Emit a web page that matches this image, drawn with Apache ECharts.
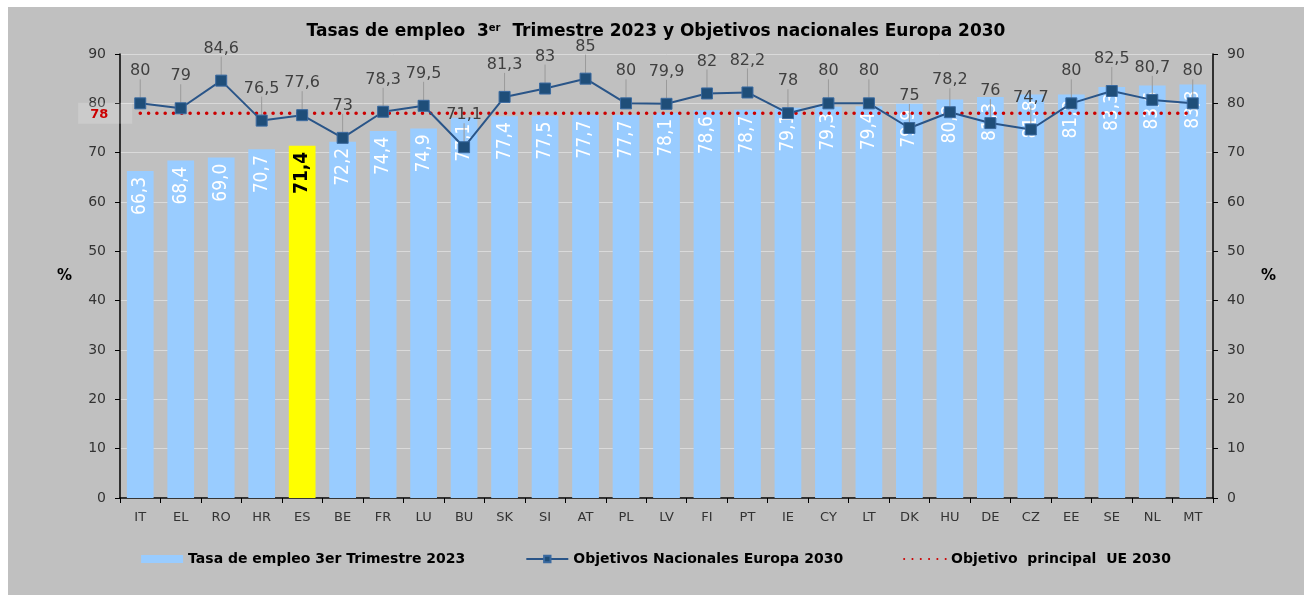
<!DOCTYPE html>
<html>
<head>
<meta charset="utf-8">
<script src="https://cdn.jsdelivr.net/npm/echarts@6/dist/echarts.min.js"></script>
<style>
  html, body { margin: 0; padding: 0; background: #fff; }
  #chart { position: absolute; left: 8px; top: 7px; width: 1296px; height: 588px; }
</style>
</head>
<body>
<div id="chart"></div>
<script>
// países ordenados por tasa de empleo
const countries = ['IT', 'EL', 'RO', 'HR', 'ES', 'BE', 'FR', 'LU', 'BU', 'SK', 'SI', 'AT', 'PL', 'LV',
  'FI', 'PT', 'IE', 'CY', 'LT', 'DK', 'HU', 'DE', 'CZ', 'EE', 'SE', 'NL', 'MT']
const employmentRate = [66.3, 68.4, 69.0, 70.7, 71.4, 72.2, 74.4, 74.9, 77.1, 77.4, 77.5, 77.7, 77.7, 78.1,
  78.6, 78.7, 79.1, 79.3, 79.4, 79.9, 80.8, 81.3, 81.8, 81.8, 83.3, 83.6, 83.8]
const nationalTargets = [80, 79, 84.6, 76.5, 77.6, 73, 78.3, 79.5, 71.1, 81.3, 83, 85, 80, 79.9,
  82, 82.2, 78, 80, 80, 75, 78.2, 76, 74.7, 80, 82.5, 80.7, 80]
const euTarget = 78
const highlighted = 'ES'
const yTicks = [0, 10, 20, 30, 40, 50, 60, 70, 80, 90]

const chart = echarts.init(document.getElementById('chart'))

const fmt = v => String(v).replace('.', ',')
const narrow = "'DejaVu Sans Condensed', 'Liberation Sans Narrow', 'Liberation Sans', sans-serif"

const yAxisBase = {
  type: 'value',
  min: yTicks[0],
  max: yTicks[yTicks.length - 1],
  interval: 10,
  name: '%',
  nameLocation: 'middle',
  nameRotate: 0,
  nameGap: 48,
  nameTextStyle: { fontFamily: 'DejaVu Sans', fontWeight: 'bold', fontSize: 15, color: '#000' },
  axisLine: { show: true, lineStyle: { color: '#000', width: 1.5 } },
  axisTick: { show: true, lineStyle: { color: '#000' } },
  axisLabel: { fontFamily: 'DejaVu Sans', fontSize: 14, color: '#333', margin: 14 }
}

const option = {
  backgroundColor: '#c0c0c0',
  animation: false,
  title: {
    text: 'Tasas de empleo  3{sup|er}  Trimestre 2023 y Objetivos nacionales Europa 2030',
    left: 'center',
    top: 11,
    textStyle: {
      fontFamily: 'DejaVu Sans',
      fontWeight: 'bold',
      fontSize: 17,
      color: '#000',
      rich: {
        sup: {
          fontFamily: 'DejaVu Sans',
          fontWeight: 'bold',
          fontSize: 10,
          verticalAlign: 'top',
          padding: [0, 0, 8, 0]
        }
      }
    }
  },
  grid: {
    left: 112,
    right: 91,
    top: 47,
    bottom: 97
  },
  legend: {
    bottom: 24,
    left: 'center',
    itemGap: 60,
    itemWidth: 42,
    itemHeight: 8,
    textStyle: {
      fontFamily: 'DejaVu Sans',
      fontWeight: 'bold',
      fontSize: 14,
      color: '#000'
    },
    data: [
      { name: 'Tasa de empleo 3er Trimestre 2023', icon: 'rect', itemStyle: { color: '#99ccff' } },
      { name: 'Objetivos Nacionales Europa 2030' },
      { name: 'Objetivo  principal  UE 2030', itemStyle: { opacity: 0 } }
    ]
  },
  xAxis: {
    type: 'category',
    data: countries,
    axisLine: { lineStyle: { color: '#000', width: 1.5 } },
    axisTick: { show: true, lineStyle: { color: '#000' } },
    axisLabel: {
      fontFamily: 'DejaVu Sans',
      fontSize: 13,
      color: '#333',
      margin: 13
    }
  },
  yAxis: [
    Object.assign({}, yAxisBase, {
      splitLine: { lineStyle: { color: '#dadada', width: 1 } }
    }),
    Object.assign({}, yAxisBase, {
      position: 'right',
      splitLine: { show: false }
    })
  ],
  series: [
    {
      name: 'Tasa de empleo 3er Trimestre 2023',
      type: 'bar',
      barWidth: '66%',
      itemStyle: { color: '#99ccff' },
      data: employmentRate.map((v, i) => {
        if (countries[i] === highlighted) {
          return {
            value: v,
            itemStyle: { color: '#ffff00' },
            label: { color: '#000', fontWeight: 'bold' }
          }
        }
        return v
      }),
      label: {
        show: true,
        position: 'insideTop',
        rotate: 90,
        align: 'right',
        verticalAlign: 'middle',
        distance: 6,
        fontFamily: narrow,
        fontSize: 19,
        color: '#fff',
        formatter: p => p.value.toFixed(1).replace('.', ',')
      },
      z: 2
    },
    {
      name: 'Objetivo  principal  UE 2030',
      type: 'line',
      symbol: 'circle',
      symbolSize: 0,
      lineStyle: { color: '#cc0000', width: 3.5, type: [0.1, 8.2], cap: 'round' },
      itemStyle: { color: '#cc0000' },
      data: countries.map((c, i) => {
        if (i === 0) {
          return {
            value: euTarget,
            label: {
              show: true,
              position: 'left',
              distance: 8,
              formatter: '{b|' + euTarget + '}',
              backgroundColor: 'rgba(255,255,255,0.18)',
              padding: [5, 24, 3, 12],
              rich: {
                b: { fontFamily: 'DejaVu Sans', fontWeight: 'bold', fontSize: 13, color: '#cc0000' }
              }
            }
          }
        }
        return euTarget
      }),
      z: 3
    },
    {
      name: 'Objetivos Nacionales Europa 2030',
      type: 'line',
      symbol: 'rect',
      symbolSize: 11,
      lineStyle: { color: '#2a5588', width: 2 },
      itemStyle: { color: '#1f4e79', borderColor: '#3a6aa0', borderWidth: 1 },
      data: nationalTargets,
      label: {
        show: true,
        position: 'top',
        distance: 6,
        fontFamily: 'DejaVu Sans',
        fontSize: 16,
        color: '#404040',
        formatter: p => fmt(p.value)
      },
      labelLayout: { dy: -12 },
      labelLine: { show: true, lineStyle: { color: '#9a9a9a', width: 1 } },
      z: 4
    }
  ]
}

chart.setOption(option)
</script>
</body>
</html>
